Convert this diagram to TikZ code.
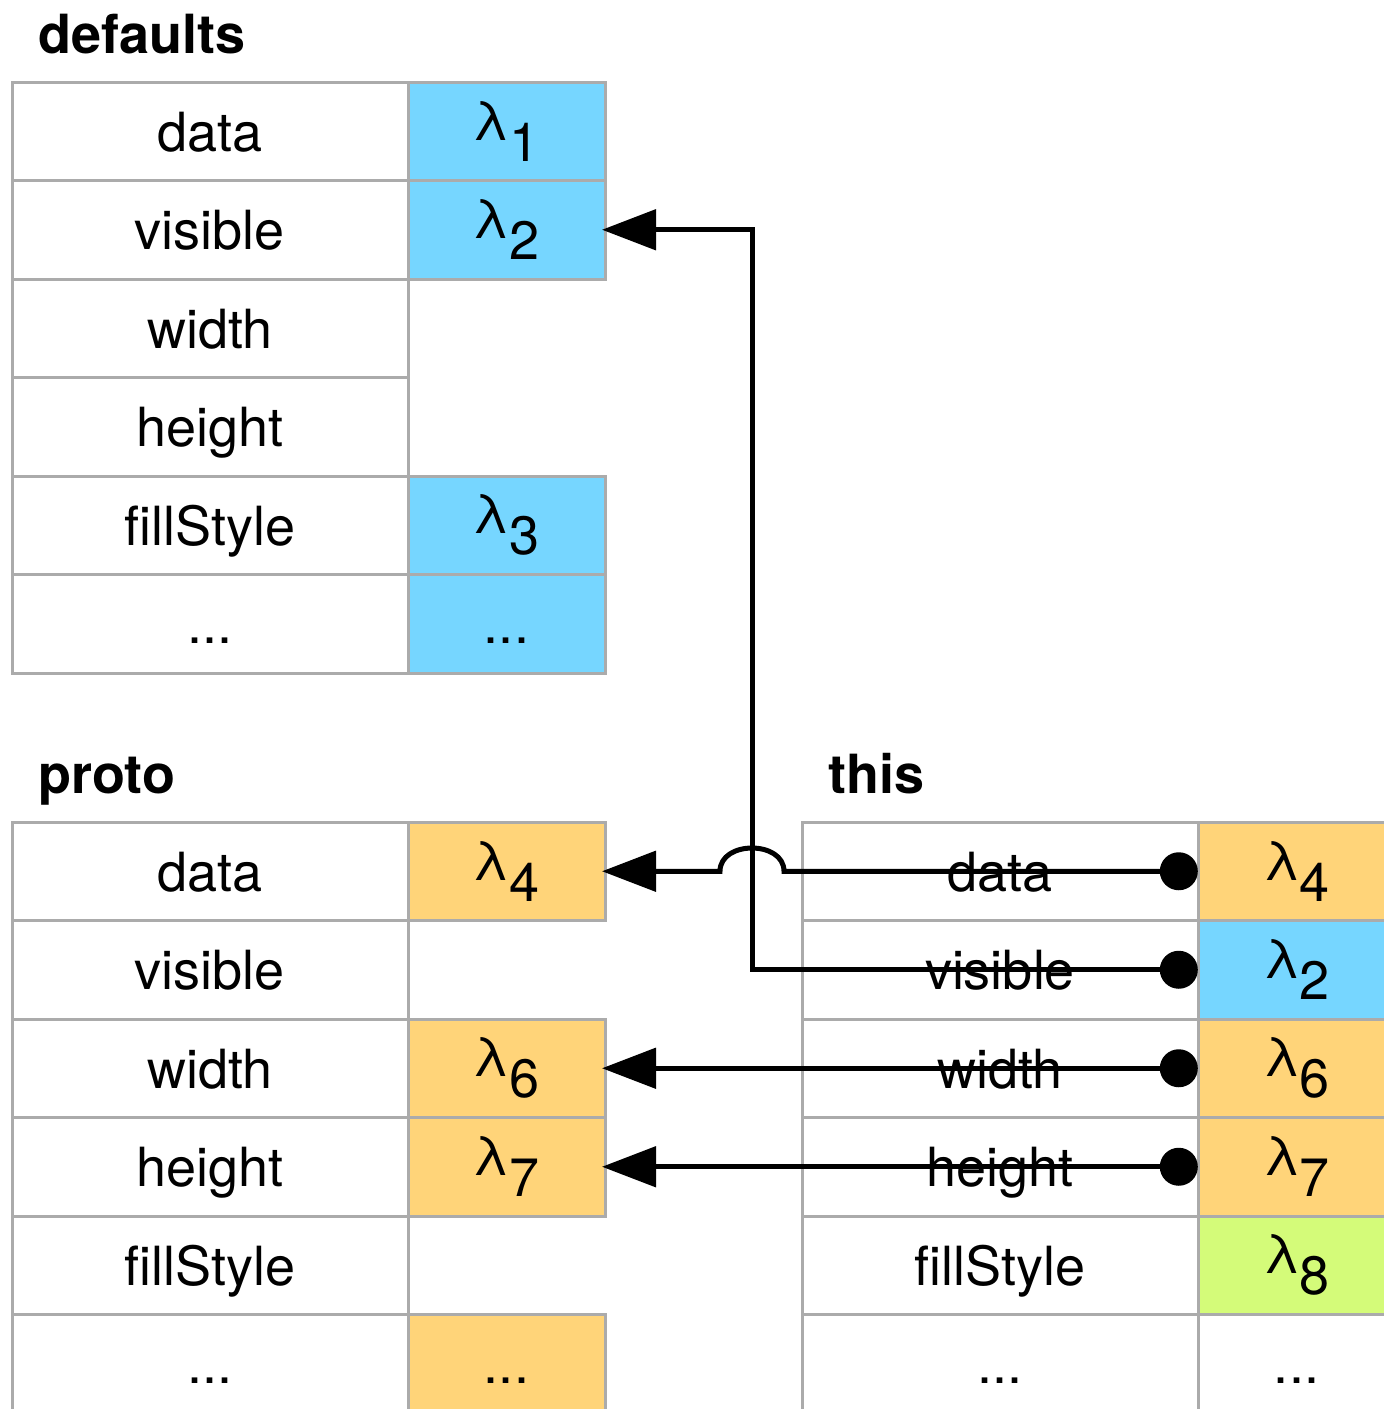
\documentclass[tikz,border=0pt]{standalone}
\usepackage{fontspec}
\setmainfont{TeX Gyre Heros}
\usetikzlibrary{arrows.meta}

\definecolor{lamblue}{HTML}{76D6FF}
\definecolor{lamorange}{HTML}{FFD479}
\definecolor{lamgreen}{HTML}{D4FB79}
\definecolor{rulegray}{HTML}{ABABAB}

% lambda with a full size lowered index
\newcommand{\lamsub}[1]{λ\raisebox{-21pt}{#1}}

\begin{document}
\begin{tikzpicture}[x=1pt,y=-1pt,
  cell/.style={draw=rulegray,line width=3pt,anchor=north west,minimum height=98.5pt,
    inner sep=0pt,outer sep=0pt,font=\fontsize{54}{60}\selectfont},
  key/.style={cell,minimum width=396pt,text height=40pt,text depth=0pt},
  val/.style={cell,minimum width=197pt,fill=#1},
  more/.style={val=#1,text height=40pt,text depth=0pt},
  title/.style={anchor=base west,inner sep=0pt,font=\bfseries\fontsize{54}{60}\selectfont},
  ptr/.style={draw=black,line width=5pt,-{Triangle[length=54pt,width=40pt]},shorten >=-3pt},
  dot/.style={circle,fill=black,minimum size=38pt,inner sep=0pt,anchor=east}]
\useasboundingbox (0,0) rectangle (1384,1409);
\clip (0,0) rectangle (1384,1409);

% defaults:
\node[title] (deftitle) at (38,53) {defaults};
\node[key] (d-data)   at (12,82)    {data};
\node[key] (d-vis)    at (12,180.5) {visible};
\node[key] (d-width)  at (12,279)   {width};
\node[key] (d-height) at (12,377.5) {height};
\node[key] (d-fill)   at (12,476)   {fillStyle};
\node[key] (d-more)   at (12,574.5) {...};
\node[val=lamblue]  (d-data-v) at (408,82)    {\lamsub{1}};
\node[val=lamblue]  (d-vis-v)  at (408,180.5) {\lamsub{2}};
\node[val=lamblue]  (d-fill-v) at (408,476)   {\lamsub{3}};
\node[more=lamblue] (d-more-v) at (408,574.5) {...};

% proto:
\node[title] (prototitle) at (38,793) {proto};
\node[key] (p-data)   at (12,822)    {data};
\node[key] (p-vis)    at (12,920.5)  {visible};
\node[key] (p-width)  at (12,1019)   {width};
\node[key] (p-height) at (12,1117.5) {height};
\node[key] (p-fill)   at (12,1216)   {fillStyle};
\node[key] (p-more)   at (12,1314.5) {...};
\node[val=lamorange]  (p-data-v)   at (408,822)    {\lamsub{4}};
\node[val=lamorange]  (p-width-v)  at (408,1019)   {\lamsub{6}};
\node[val=lamorange]  (p-height-v) at (408,1117.5) {\lamsub{7}};
\node[more=lamorange] (p-more-v)   at (408,1314.5) {...};

% this:
\node[title] (thistitle) at (828,793) {this};
\node[key] (t-data)   at (802,822)    {data};
\node[key] (t-vis)    at (802,920.5)  {visible};
\node[key] (t-width)  at (802,1019)   {width};
\node[key] (t-height) at (802,1117.5) {height};
\node[key] (t-fill)   at (802,1216)   {fillStyle};
\node[key] (t-more)   at (802,1314.5) {...};
\node[val=lamorange] (t-data-v)   at (1198,822)    {\lamsub{4}};
\node[val=lamblue]   (t-vis-v)    at (1198,920.5)  {\lamsub{2}};
\node[val=lamorange] (t-width-v)  at (1198,1019)   {\lamsub{6}};
\node[val=lamorange] (t-height-v) at (1198,1117.5) {\lamsub{7}};
\node[val=lamgreen]  (t-fill-v)   at (1198,1216)   {\lamsub{8}};
\node[more=white]    (t-more-v)   at (1198,1314.5) {...};

% lookups:
\node[dot] (dot-data)   at (t-data-v.west)   {};
\node[dot] (dot-vis)    at (t-vis-v.west)    {};
\node[dot] (dot-width)  at (t-width-v.west)  {};
\node[dot] (dot-height) at (t-height-v.west) {};
\coordinate (rail) at (752,0);
\coordinate (hop) at (rail |- dot-data.center);
\draw[ptr] (dot-vis.center) -| (rail |- d-vis-v.east) -- (d-vis-v.east);
\draw[ptr] (dot-data.center) -- ([xshift=32pt]hop)
  .. controls ([xshift=32pt,yshift=31pt]hop) and ([xshift=-32pt,yshift=31pt]hop) .. ([xshift=-32pt]hop)
  -- (p-data-v.east);
\draw[ptr] (dot-width.center) -- (p-width-v.east);
\draw[ptr] (dot-height.center) -- (p-height-v.east);
\end{tikzpicture}
\end{document}
